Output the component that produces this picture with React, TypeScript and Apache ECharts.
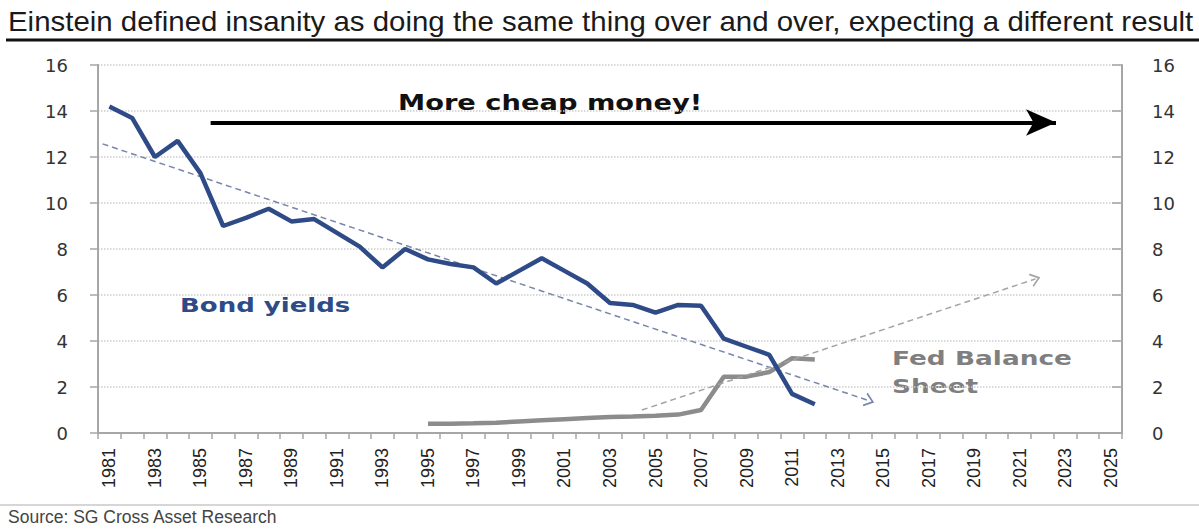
import { useEffect, useRef } from "react";
import * as echarts from "echarts";

const years = [
  "1981", "1982", "1983", "1984", "1985", "1986", "1987", "1988", "1989", "1990",
  "1991", "1992", "1993", "1994", "1995", "1996", "1997", "1998", "1999", "2000",
  "2001", "2002", "2003", "2004", "2005", "2006", "2007", "2008", "2009", "2010",
  "2011", "2012", "2013", "2014", "2015", "2016", "2017", "2018", "2019", "2020",
  "2021", "2022", "2023", "2024", "2025",
];

// Bond yields 1981..2012
const bondYields = [
  14.2, 13.7, 12.0, 12.7, 11.3, 9.0, 9.35, 9.75, 9.2, 9.3,
  8.7, 8.1, 7.2, 8.0, 7.55, 7.35, 7.2, 6.5, 7.05, 7.6,
  7.05, 6.5, 5.65, 5.57, 5.23, 5.57, 5.53, 4.1, 3.75, 3.4,
  1.7, 1.25,
];

// Fed balance sheet 1995..2012
const fedStartYear = "1995";
const fedBalance = [
  0.4, 0.4, 0.42, 0.45, 0.5, 0.55, 0.6, 0.65, 0.7, 0.72,
  0.75, 0.8, 1.0, 2.45, 2.45, 2.65, 3.25, 3.2,
];

// Trend lines [year, value]
const bondTrend = [[1980.7, 12.57], [2014.4, 1.4]];
const fedTrend = [[2004.4, 1.0], [2021.7, 6.7]];
const cheapMoneyArrow = [[1985.45, 13.5], [2022.6, 13.5]];

const title =
  "Einstein defined insanity as doing the same thing over and over, expecting a different result";
const source = "Source: SG Cross Asset Research";

const openArrow = "path://M0,10 L5,0 L10,10 L9,11 L5,3 L1,11 Z";

export default function App() {
  const ref = useRef<HTMLDivElement>(null);

  useEffect(() => {
    if (!ref.current) return;
    const chart = echarts.init(ref.current, undefined, { renderer: "svg" });

    const fedOffset = years.indexOf(fedStartYear);
    const fedData = years.map((_, i) =>
      i >= fedOffset && i - fedOffset < fedBalance.length ? fedBalance[i - fedOffset] : null
    );

    const axisGray = "#a6a6a6";

    const trendSeries = (
      name: string,
      pts: number[][],
      color: string,
      width: number,
      type: any,
      symbol: string,
      symbolSize: number[]
    ) => ({
      name,
      type: "line",
      xAxisIndex: 1,
      yAxisIndex: 0,
      data: [],
      silent: true,
      markLine: {
        silent: true,
        symbol: ["none", symbol],
        symbolSize,
        label: { show: false },
        lineStyle: { color, width, type },
        emphasis: { disabled: true },
        data: [[{ coord: pts[0] }, { coord: pts[1] }]],
      },
    });

    chart.setOption({
      animation: false,
      backgroundColor: "#ffffff",
      grid: { left: 98, right: 77, top: 65, bottom: 96 },
      xAxis: [
        {
          type: "category",
          data: years,
          boundaryGap: true,
          axisLine: { show: true, lineStyle: { color: axisGray, width: 2 } },
          axisTick: { show: true, interval: 0, length: 6, lineStyle: { color: axisGray, width: 1.5 } },
          axisLabel: {
            interval: 1,
            rotate: 90,
            margin: 15,
            fontSize: 18,
            fontFamily: "Liberation Sans",
            color: "#222",
          },
          splitLine: { show: false },
        },
        {
          type: "value",
          min: 1980.5,
          max: 2025.5,
          show: false,
        },
      ],
      yAxis: [
        {
          type: "value",
          min: 0,
          max: 16,
          interval: 2,
          position: "left",
          axisLine: { show: true, lineStyle: { color: axisGray, width: 2 } },
          axisTick: { show: true, length: 8, lineStyle: { color: axisGray, width: 1.5 } },
          axisLabel: { margin: 30, fontSize: 18, fontFamily: "DejaVu Sans", color: "#333" },
          splitLine: { show: true, lineStyle: { color: "#cccccc", type: "dotted", width: 1.5 } },
        },
        {
          type: "value",
          min: 0,
          max: 16,
          interval: 2,
          position: "right",
          axisLine: { show: true, lineStyle: { color: axisGray, width: 2 } },
          axisTick: { show: true, inside: true, length: 10, lineStyle: { color: axisGray, width: 1.5 } },
          axisLabel: { margin: 30, fontSize: 18, fontFamily: "DejaVu Sans", color: "#333" },
          splitLine: { show: false },
        },
      ],
      series: [
        trendSeries("Bond trend", bondTrend, "#7886ad", 1.5, [6, 4], openArrow, [14, 10]),
        trendSeries("Fed trend", fedTrend, "#a3a3a3", 1.5, [6, 4], openArrow, [14, 10]),
        trendSeries("More cheap money", cheapMoneyArrow, "#000000", 4, "solid", "arrow", [20, 30]),
        {
          name: "Bond yields",
          type: "line",
          data: bondYields,
          symbol: "none",
          lineStyle: { color: "#2e4a87", width: 4.5 },
          z: 5,
        },
        {
          name: "Fed Balance Sheet",
          type: "line",
          yAxisIndex: 1,
          data: fedData,
          symbol: "none",
          connectNulls: false,
          lineStyle: { color: "#8c8c8c", width: 4.5 },
          z: 4,
        },
      ],
      graphic: [
        {
          type: "text",
          x: 8,
          y: 21,
          scaleX: 1.09,
          style: {
            text: title,
            fontSize: 27,
            fontFamily: "Liberation Sans",
            fill: "#1a1a1a",
            verticalAlign: "middle",
            align: "left",
          },
        },
        {
          type: "line",
          shape: { x1: 6, y1: 40, x2: 1199, y2: 40 },
          style: { stroke: "#111", lineWidth: 3 },
        },
        {
          type: "text",
          x: 398,
          y: 103,
          scaleX: 1.3,
          style: {
            text: "More cheap money!",
            fontSize: 21,
            fontWeight: "bold",
            fontFamily: "DejaVu Sans",
            fill: "#111",
            verticalAlign: "middle",
            align: "left",
          },
        },
        {
          type: "text",
          x: 180,
          y: 305,
          scaleX: 1.3,
          style: {
            text: "Bond yields",
            fontSize: 20,
            fontWeight: "bold",
            fontFamily: "DejaVu Sans",
            fill: "#2e4a87",
            verticalAlign: "middle",
            align: "left",
          },
        },
        {
          type: "text",
          x: 892,
          y: 358,
          scaleX: 1.32,
          style: {
            text: "Fed Balance",
            fontSize: 20,
            fontWeight: "bold",
            fontFamily: "DejaVu Sans",
            fill: "#7f7f7f",
            verticalAlign: "middle",
            align: "left",
          },
        },
        {
          type: "text",
          x: 892,
          y: 386,
          scaleX: 1.32,
          style: {
            text: "Sheet",
            fontSize: 20,
            fontWeight: "bold",
            fontFamily: "DejaVu Sans",
            fill: "#7f7f7f",
            verticalAlign: "middle",
            align: "left",
          },
        },
        {
          type: "line",
          shape: { x1: 0, y1: 505, x2: 1199, y2: 505 },
          style: { stroke: "#c8c8c8", lineWidth: 1.5 },
        },
        {
          type: "text",
          x: 8,
          y: 517,
          style: {
            text: source,
            fontSize: 17.5,
            fontFamily: "Liberation Sans",
            fill: "#444",
            verticalAlign: "middle",
            align: "left",
          },
        },
      ],
    });

    return () => chart.dispose();
  }, []);

  return (
    <div
      ref={ref}
      style={{ position: "absolute", left: 0, top: 0, width: 1199, height: 529 }}
    />
  );
}
